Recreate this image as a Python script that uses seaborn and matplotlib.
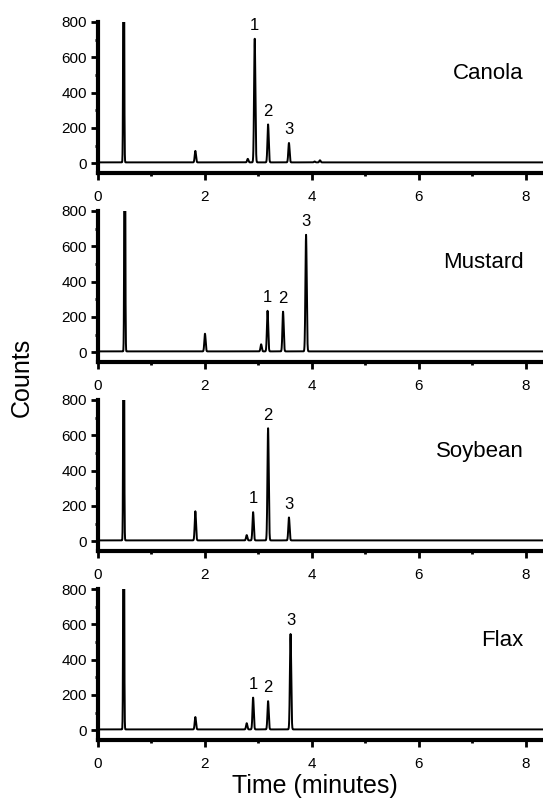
import numpy as np
import pandas as pd
import matplotlib
matplotlib.use('Agg')
import matplotlib.pyplot as plt
from matplotlib.ticker import MultipleLocator
import seaborn as sns

sns.set_style('ticks')
plt.rcParams['font.family'] = ['Liberation Sans', 'DejaVu Sans']
plt.rcParams.update({'text.color': 'black', 'axes.edgecolor': 'black',
                     'xtick.color': 'black', 'ytick.color': 'black',
                     'axes.labelcolor': 'black'})

samples = ['Canola', 'Mustard', 'Soybean', 'Flax']

# peaks: retention time (min), height (counts)
peak_times = {
    'Canola':  [0.48, 1.82, 2.80, 2.93, 3.18, 3.57, 4.05, 4.15],
    'Mustard': [0.50, 2.00, 3.05, 3.17, 3.46, 3.89],
    'Soybean': [0.48, 1.82, 2.78, 2.90, 3.18, 3.57],
    'Flax':    [0.48, 1.82, 2.78, 2.90, 3.18, 3.60],
}
peak_heights = {
    'Canola':  [2000, 65, 20, 700, 215, 110, 5, 12],
    'Mustard': [2000, 100, 40, 230, 225, 660],
    'Soybean': [2000, 165, 30, 160, 635, 130],
    'Flax':    [2000, 70, 35, 180, 160, 540],
}
# numbered analytes 1, 2, 3 (index into peak lists)
labelled = {
    'Canola':  [3, 4, 5],
    'Mustard': [3, 4, 5],
    'Soybean': [3, 4, 5],
    'Flax':    [3, 4, 5],
}
baseline = 5

t = np.arange(0, 8.4, 0.002)

fig, axes = plt.subplots(4, 1, figsize=(5.43, 8.02), dpi=100)
fig.subplots_adjust(left=0.1805, right=1.0, top=0.9726, bottom=0.0773, hspace=0.2517)

for ax, name in zip(axes, samples):
    trace = np.full_like(t, baseline, dtype=float)
    for rt, h in zip(peak_times[name], peak_heights[name]):
        w = 0.008 if rt < 1 else 0.012
        trace += h * np.exp(-0.5 * ((t - rt) / w) ** 2)
    df = pd.DataFrame({'Time': t, 'Counts': trace})
    sns.lineplot(data=df, x='Time', y='Counts', ax=ax, color='black', linewidth=1.4)

    for k, idx in enumerate(labelled[name]):
        ax.text(peak_times[name][idx], peak_heights[name][idx] + 80, str(k + 1),
                ha='center', va='center', fontsize=12)
    ax.text(0.957, 0.662, name, transform=ax.transAxes, ha='right', va='center', fontsize=16)

    ax.set_xlim(0, 8.32)
    ax.set_ylim(-55, 800)
    ax.set_xlabel('')
    ax.set_ylabel('')
    ax.xaxis.set_major_locator(MultipleLocator(2))
    ax.xaxis.set_minor_locator(MultipleLocator(1))
    ax.yaxis.set_major_locator(MultipleLocator(200))
    ax.yaxis.set_minor_locator(MultipleLocator(100))
    ax.tick_params(axis='x', which='major', direction='out', length=5, width=2, labelsize=11, pad=7)
    ax.tick_params(axis='y', which='major', direction='out', length=5, width=2, labelsize=11, pad=3)
    ax.tick_params(which='minor', direction='out', length=2.5, width=2)
    for s in ['top', 'right']:
        ax.spines[s].set_visible(False)
    for s in ['left', 'bottom']:
        ax.spines[s].set_linewidth(3)

fig.text(0.04, 0.529, 'Counts', rotation=90, ha='center', va='center', fontsize=18)
fig.text(0.58, 0.02, 'Time (minutes)', ha='center', va='center', fontsize=18)

fig.savefig('out.png', dpi=100)
